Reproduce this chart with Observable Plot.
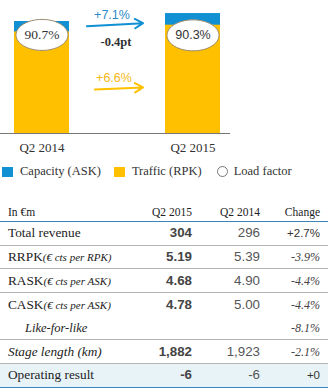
<!DOCTYPE html>
<html><head><meta charset="utf-8">
<script src="https://cdn.jsdelivr.net/npm/d3@7"></script>
<script src="https://cdn.jsdelivr.net/npm/@observablehq/plot@0.6"></script>
<style>
html,body{margin:0;padding:0;background:#fff;}
body{width:328px;height:388px;overflow:hidden;font-family:"Liberation Serif",serif;color:#222;}
#chart svg{display:block;}
#legend{height:23px;display:flex;align-items:center;font-size:12.5px;color:#333;white-space:nowrap;}
#legend .sw{display:inline-block;width:11px;height:10px;margin-right:7px;}
#legend .it{display:flex;align-items:center;}
#legend .circ{display:inline-block;width:11px;height:11px;border:1px solid #777;border-radius:50%;margin-right:6px;box-sizing:border-box;}
table{border-collapse:collapse;table-layout:fixed;width:328px;}
td{padding:0;vertical-align:middle;white-space:nowrap;line-height:16px;}
tr.hd td{height:38px;padding-top:20px;box-sizing:border-box;font-size:11.5px;color:#222;border-bottom:1.5px solid #3a86bf;line-height:18px;}
tr.bd td{height:23.7px;box-sizing:border-box;border-bottom:1px solid #b5b5b5;font-size:13.3px;}
tr.nb td{border-bottom:none;}
tr.last td{background:#e8f3f8;border-bottom:1.5px solid #3a86bf;}
td.lab{padding-left:8px;}
td.num{text-align:right;font-family:"Liberation Sans",Arial,sans-serif;font-size:12px;}
td.c1{font-weight:bold;color:#444;}
td.c2{color:#555;}
td.c3{padding-right:8px;}
.unit{font-style:italic;font-size:11px;}
.ital{font-style:italic;}
.chg-i{font-family:"Liberation Serif",serif;font-style:italic;font-size:12px;color:#444;}
.chg-n{font-size:11.5px;color:#333;}
</style>
</head><body>
<div id="chart"></div>
<div id="legend"></div>
<div id="table"></div>
<script>
// ---- chart data ----
const quarters = ["Q2 2014", "Q2 2015"];
const capacity = [100, 107.1];      // ASK index
const traffic = [90.7, 96.7];       // RPK index
const loadFactor = [90.7, 90.3];
const loadFactorLabels = ["90.7%", "90.3%"];
const capacityChange = "+7.1%";
const trafficChange = "+6.6%";
const loadFactorChange = "-0.4pt";
const legendItems = ["Capacity (ASK)", "Traffic (RPK)", "Load factor"];

// ---- table data ----
const tableHeader = ["In €m", "Q2 2015", "Q2 2014", "Change"];
const rowLabels = ["Total revenue", "RRPK", "RASK", "CASK", "Like-for-like", "Stage length (km)", "Operating result"];
const rowUnits = ["", "(€ cts per RPK)", "(€ cts per ASK)", "(€ cts per ASK)", "", "", ""];
const q2015 = ["304", "5.19", "4.68", "4.78", "", "1,882", "-6"];
const q2014 = ["296", "5.39", "4.90", "5.00", "", "1,923", "-6"];
const changes = ["+2.7%", "-3.9%", "-4.4%", "-4.4%", "-8.1%", "-2.1%", "+0"];

const BLUE = "#1190d3", YELLOW = "#ffc000";

const bars = quarters.map((q, i) => ({q, capacity: capacity[i], traffic: traffic[i], lf: loadFactor[i], lfLabel: loadFactorLabels[i]}));

const ellipse = {
  draw(ctx) {
    const rx = 26, ry = 15.5, k = 0.5523;
    ctx.moveTo(rx, 0);
    ctx.bezierCurveTo(rx, ry * k, rx * k, ry, 0, ry);
    ctx.bezierCurveTo(-rx * k, ry, -rx, ry * k, -rx, 0);
    ctx.bezierCurveTo(-rx, -ry * k, -rx * k, -ry, 0, -ry);
    ctx.bezierCurveTo(rx * k, -ry, rx, -ry * k, rx, 0);
    ctx.closePath();
  }
};

const one = [0];
const chart = Plot.plot({
  width: 328,
  height: 160,
  marginLeft: 0,
  marginRight: 98,
  marginTop: 0,
  marginBottom: 27,
  x: {type: "band", domain: quarters, range: [14, 220], paddingInner: 0.636, paddingOuter: 0, label: null},
  y: {domain: [0, 100], range: [133, 21], axis: null},
  marks: [
    Plot.barY(bars, {x: "q", y: "capacity", fill: BLUE}),
    Plot.barY(bars, {x: "q", y: "traffic", fill: YELLOW}),
    Plot.ruleY([0], {stroke: "#777", strokeWidth: 1}),
    Plot.axisX({tickSize: 0, tickPadding: 9, fontSize: 13, fontFamily: "Liberation Serif", fill: "#333", label: null}),
    Plot.dot(bars, {x: "q", y: "lf", dy: 3, symbol: ellipse, fill: "white", stroke: "#9a8a6c", strokeWidth: 1}),
    Plot.text(bars.filter((d, i) => i === 0), {x: "q", y: "lf", dy: 3, text: "lfLabel", fontFamily: "Liberation Serif", fontSize: 13.5, fill: "#333"}),
    Plot.text(bars.filter((d, i) => i === 1), {x: "q", y: "lf", dy: 3, text: "lfLabel", fontFamily: "Liberation Sans", fontSize: 12.5, fill: "#333"}),
    Plot.arrow(one, {x1: () => quarters[0], y1: () => capacity[0], x2: () => quarters[1], y2: () => capacity[1],
      dy: 7, insetStart: 45, insetEnd: 50, stroke: BLUE, strokeWidth: 2, headLength: 7}),
    Plot.arrow(one, {x1: () => quarters[0], y1: () => traffic[0], x2: () => quarters[1], y2: () => traffic[1],
      dy: 60, insetStart: 53, insetEnd: 50, stroke: YELLOW, strokeWidth: 2, headLength: 7}),
    Plot.text(one, {x: () => quarters[0], y: () => capacity[0], text: () => capacityChange, dx: 70, dy: -7,
      fontFamily: "Liberation Sans", fontSize: 12.5, fill: "#2a8ac9"}),
    Plot.text(one, {x: () => quarters[0], y: () => loadFactor[0], text: () => loadFactorChange, dx: 74, dy: 10,
      fontFamily: "Liberation Serif", fontWeight: "bold", fontSize: 12.5, fill: "#333"}),
    Plot.text(one, {x: () => quarters[0], y: () => traffic[0], text: () => trafficChange, dx: 72, dy: 46,
      fontFamily: "Liberation Sans", fontSize: 12.5, fill: "#f4b814"})
  ]
});
document.getElementById("chart").appendChild(chart);

// legend
const lg = d3.select("#legend");
const it1 = lg.append("span").attr("class", "it").style("margin-left", "2px");
it1.append("span").attr("class", "sw").style("background", BLUE);
it1.append("span").text(legendItems[0]);
const it2 = lg.append("span").attr("class", "it").style("margin-left", "13px");
it2.append("span").attr("class", "sw").style("background", YELLOW);
it2.append("span").text(legendItems[1]);
const it3 = lg.append("span").attr("class", "it").style("margin-left", "15px");
it3.append("span").attr("class", "circ");
it3.append("span").text(legendItems[2]);

// table
const table = d3.select("#table").append("table");
const cg = table.append("colgroup");
[130, 62, 68, 68].forEach(w => cg.append("col").style("width", w + "px"));
const hr = table.append("tr").attr("class", "hd");
tableHeader.forEach((h, i) => hr.append("td").attr("class", i === 0 ? "lab" : (i === 3 ? "c3" : "")).style("text-align", i === 0 ? "left" : "right").text(h));
rowLabels.forEach((lab, i) => {
  const tr = table.append("tr").attr("class", "bd" + (i === 3 ? " nb" : "") + (i === rowLabels.length - 1 ? " last" : ""));
  const td = tr.append("td").attr("class", "lab");
  if (i === 4) { td.append("span").attr("class", "ital").style("padding-left", "17px").style("font-size", "12.5px").text(lab); }
  else if (i === 5) { td.append("span").attr("class", "ital").text(lab); }
  else {
    td.append("span").text(lab);
    if (rowUnits[i]) td.append("span").attr("class", "unit").text(rowUnits[i]);
  }
  tr.append("td").attr("class", "num c1").text(q2015[i]);
  tr.append("td").attr("class", "num c2").text(q2014[i]);
  const italic = changes[i].startsWith("-");
  tr.append("td").attr("class", "num c3").append("span").attr("class", italic ? "chg-i" : "chg-n").text(changes[i]);
});
</script>
</body></html>
